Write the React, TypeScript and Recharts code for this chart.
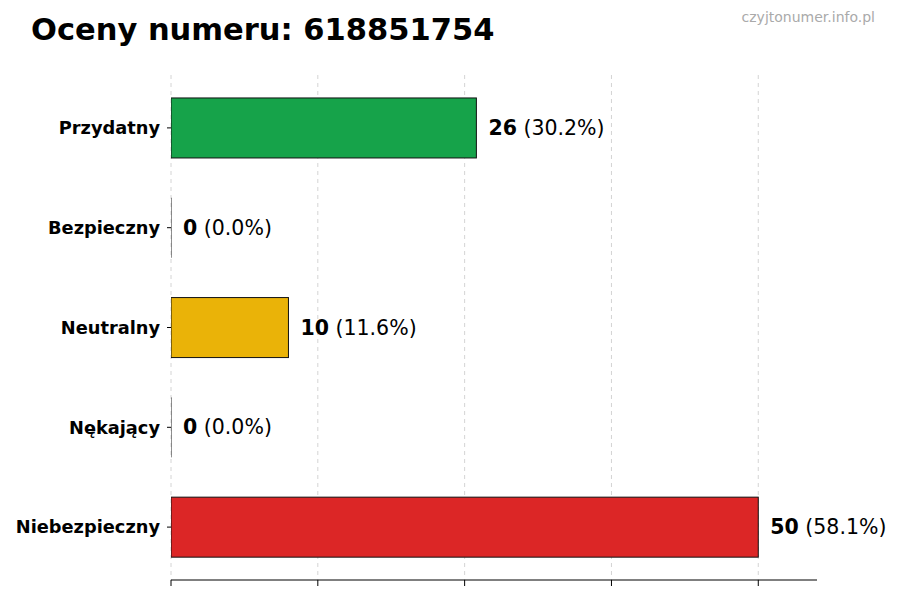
import { BarChart, Bar, XAxis, YAxis, CartesianGrid, Cell, LabelList } from 'recharts';

const categories = ['Przydatny', 'Bezpieczny', 'Neutralny', 'Nękający', 'Niebezpieczny'];
const counts = [26, 0, 10, 0, 50];
const percents = ['30.2%', '0.0%', '11.6%', '0.0%', '58.1%'];
const xTicks = [0, 12.5, 25, 37.5, 50];

const COLORS = ['#16a34a', '#16a34a', '#eab308', '#f97316', '#dc2626'];
const FONT = '"DejaVu Sans", Verdana, sans-serif';

const data = categories.map((name, i) => ({ name, value: counts[i], pct: percents[i] }));

function BarShape(props: any) {
  const { x, y, width, height, fill } = props;
  if (!width) {
    return <line x1={x} x2={x} y1={y} y2={y + height} stroke="#222" strokeWidth={1} />;
  }
  return <rect x={x} y={y} width={width} height={height} fill={fill} stroke="#111" strokeWidth={1} />;
}

function ValueLabel(props: any) {
  const { x, y, width, height, index } = props;
  const d = data[index];
  return (
    <text x={x + width + 12} y={y + height / 2} dominantBaseline="central" fontSize={20.5} fontFamily={FONT} fill="#000">
      <tspan fontWeight="bold">{d.value}</tspan>
      <tspan> ({d.pct})</tspan>
    </text>
  );
}

const NoTick = () => <g />;

export default function App() {
  return (
    <div style={{ position: 'absolute', left: 0, top: 0, width: 900, height: 600, background: '#fff', fontFamily: FONT }}>
      <div style={{ position: 'absolute', left: 31, top: 10, fontSize: 30.5, fontWeight: 'bold', lineHeight: '40px', color: '#000' }}>
        Oceny numeru: 618851754
      </div>
      <div style={{ position: 'absolute', right: 25, top: 7, fontSize: 14, lineHeight: '20px', color: '#aaa' }}>
        czyjtonumer.info.pl
      </div>
      <BarChart
        width={900}
        height={600}
        data={data}
        layout="vertical"
        margin={{ top: 75, right: 83, bottom: 0, left: 0 }}
        barCategoryGap="20%"
      >
        <CartesianGrid horizontal={false} verticalValues={xTicks} strokeDasharray="4 4" stroke="#d4d4d4" />
        <XAxis
          type="number"
          domain={[0, 55]}
          ticks={xTicks}
          tick={<NoTick />}
          tickLine={{ stroke: '#000' }}
          tickSize={6}
          axisLine={{ stroke: '#000' }}
          height={20}
          allowDataOverflow
        />
        <YAxis
          type="category"
          dataKey="name"
          width={171}
          axisLine={false}
          tickLine={{ stroke: '#000' }}
          tickSize={4}
          tickMargin={7}
          padding={{ top: 3, bottom: 3 }}
          tick={{ fontSize: 17.8, fontWeight: 'bold', fill: '#000', fontFamily: FONT }}
        />
        <Bar dataKey="value" isAnimationActive={false} shape={<BarShape />}>
          {data.map((d, i) => (
            <Cell key={d.name} fill={COLORS[i]} />
          ))}
          <LabelList dataKey="value" content={<ValueLabel />} />
        </Bar>
      </BarChart>
    </div>
  );
}
